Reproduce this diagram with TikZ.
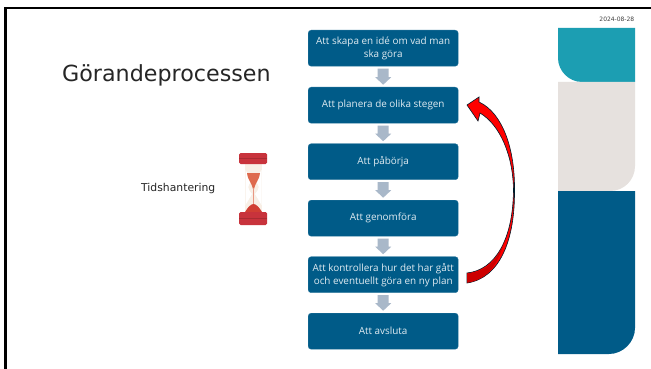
\documentclass[tikz,border=0pt]{standalone}
\usepackage{fontspec}
\usetikzlibrary{calc}
\setmainfont{Open Sans}
\newfontfamily\verd{DejaVu Sans}
\definecolor{navy}{HTML}{005B88}
\definecolor{teal2}{HTML}{1C9EB2}
\definecolor{stone}{HTML}{E6E1DE}
\definecolor{arrowgrey}{HTML}{A9B8C9}
\definecolor{capred}{HTML}{C8333C}
\definecolor{sandred}{HTML}{DE6A4E}
\definecolor{glass}{HTML}{F8EFE6}
\tikzset{
  x=1pt,y=-1pt,
  stepbox/.style={draw=navy!85!white,line width=.4pt,fill=navy,rounded corners=3pt,minimum width=150pt,minimum height=36pt,inner sep=0pt,align=center,text=white!88!navy,font=\fontsize{9.9}{13}\selectfont,anchor=north west},
  downarrow/.style={fill=arrowgrey,draw=none},
}
\begin{document}
\begin{tikzpicture}
\useasboundingbox (0,0) rectangle (651,369);
\fill[white] (0,0) rectangle (651,369);
% frame
\fill[black] (4,7) rectangle (651,9.5);
\fill[black] (4,7) rectangle (6.5,369);
% side panels
\fill[teal2] (558,28) -- (635,28) -- (635,82) -- (582,82) .. controls (569,82) and (558,71) .. (558,58) -- cycle;
\fill[stone] (558,82) -- (635,82) -- (635,166) .. controls (635,180) and (624,191) .. (610,191) -- (558,191) -- cycle;
\fill[navy] (558,191) -- (635,191) -- (635,328) .. controls (635,342) and (623,354) .. (609,354) -- (558,354) -- cycle;
\node[font=\verd\fontsize{6}{7}\selectfont,text=black!75,anchor=east,inner sep=0pt] (date) at (634.5,19) {2024-08-28};
% title
\node[font=\verd\fontsize{22.2}{26}\selectfont,text=black!85,anchor=west,inner sep=0pt] (title) at (62,75) {Görandeprocessen};
\node[font=\verd\fontsize{10.8}{13}\selectfont,text=black!85,anchor=west,inner sep=0pt] (tid) at (141,189) {Tidshantering};
% hourglass
\fill[glass] (245,164) rectangle (262,212);
\fill[white] (252,181) .. controls (247,186) and (247,188) .. (252,194) -- (245.5,205) -- (245.5,170) -- cycle;
\fill[white] (255,181) .. controls (260,186) and (260,188) .. (255,194) -- (261.5,205) -- (261.5,170) -- cycle;
\fill[sandred] (247,173) -- (260,173) .. controls (259,181) and (255,183) .. (254,189) -- (253,189) .. controls (252,183) and (248,181) .. (247,173) -- cycle;
\fill[sandred!70!white] (253,188) rectangle (254,205);
\fill[capred!85!orange] (245,212) .. controls (248,207) and (251,204) .. (253.5,204) .. controls (256,204) and (259,207) .. (262,212) -- cycle;
\fill[capred,rounded corners=1.5pt] (239,153) rectangle (267,164);
\fill[capred,rounded corners=1.5pt] (239,212) rectangle (267,225);
\fill[capred!70!black,opacity=.5] (239,158) rectangle (267,159);
\fill[capred!70!black,opacity=.5] (239,218) rectangle (267,219);
% boxes
\node[stepbox] (b1) at (308,30) {Att skapa en idé om vad man\\ska göra};
\node[stepbox] (b2) at (308,87) {Att planera de olika stegen};
\node[stepbox] (b3) at (308,143.5) {Att påbörja};
\node[stepbox] (b4) at (308,200) {Att genomföra};
\node[stepbox] (b5) at (308,256.5) {Att kontrollera hur det har gått\\och eventuellt göra en ny plan};
\node[stepbox] (b6) at (308,313) {Att avsluta};
% grey arrows
\foreach \a/\b in {b1/b2,b2/b3,b3/b4,b4/b5,b5/b6}{
  \path (\a.south) ++(0,2.3) coordinate (s) (\b.north) ++(0,-2.3) coordinate (e);
  \fill[downarrow] (s) ++(-5.5,0) -- ++(11,0) -- ($(e)+(5.5,-7.5)$) -- ++(2.5,0) -- (e) -- ($(e)+(-8,-7.5)$) -- ++(2.5,0) -- cycle;
}
% curved red arrow
\coordinate (tip) at (467,105);
\draw[fill=red,draw=black!70!navy,line width=.6pt]
  (467,273) .. controls (495,270) and (513,240) .. (513.5,190)
  .. controls (513,155) and (500,125) .. (480,113)
  -- (478,121) -- (tip) -- (479,97) -- (479,102)
  .. controls (503,113) and (515,150) .. (514.5,190)
  .. controls (515,240) and (500,278) .. (467,283) -- cycle;
\fill[red!80!black] (467,273.5) .. controls (485,272) and (497,262) .. (505,240) .. controls (497,268) and (485,280) .. (467.4,282.6) -- cycle;
\end{tikzpicture}
\end{document}
